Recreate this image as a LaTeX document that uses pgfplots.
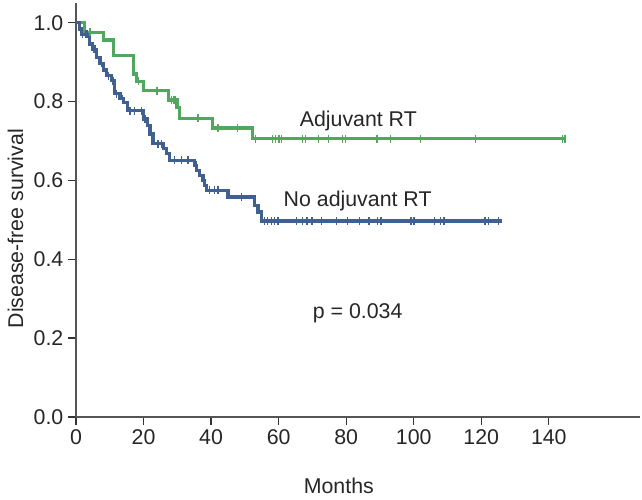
\documentclass[border=0pt]{standalone}
\usepackage{pgfplots}
\pgfplotsset{compat=1.18}
\usepackage{fontspec}
\setmainfont{Liberation Sans}
\definecolor{grn}{HTML}{4FA85E}
\definecolor{blu}{HTML}{40608F}
\definecolor{axgray}{HTML}{555555}

\begin{document}
\begin{tikzpicture}
\begin{axis}[
  scale only axis, width=423pt, height=310.5pt,
  xmin=0, xmax=167, ymin=0, ymax=1.05,
  axis lines*=left, clip=false,
  axis line style={line width=1.2pt, axgray},
  tick align=outside, major tick length=6pt,
  tick style={line width=1pt, black!80},
  xtick={0,20,...,140}, ytick={0,0.2,...,1.0},
  yticklabel style={/pgf/number format/.cd, fixed, fixed zerofill, precision=1},
  /pgf/number format/assume math mode=true,
  tick label style={font=\fontsize{16}{20}\selectfont, text=black!85},
  label style={font=\fontsize{16}{20}\selectfont, text=black!85},
  xlabel={Months},
  xlabel style={at={(axis description cs:0.466,0)}, anchor=base, yshift=-57.5pt},
  ylabel={Disease-free survival},
  ylabel style={at={(axis description cs:-0.094,0.455)}, rotate=0, anchor=base},
]
% fix the picture's extent to the reference proportions
\path (axis description cs:-0.1348,-0.2005) rectangle (axis description cs:1.0036,1.0073);

% Adjuvant RT
\addplot[const plot, grn, line width=2.4pt] coordinates {
(0,1.0) (2.4,0.976) (8.1,0.956) (11.0,0.916) (17.1,0.870) (17.9,0.851)
(19.9,0.828) (27.3,0.804) (29.9,0.784) (30.7,0.758) (40.4,0.733)
(52.2,0.706) (145,0.706)};
\addplot[only marks, grn, mark=|, mark size=3pt, mark options={line width=1pt}] coordinates {
(4.1,0.976) (18.5,0.851) (24.0,0.828) (28.3,0.804) (29.0,0.804) (29.5,0.804)
(36.1,0.758) (42.0,0.733) (47.9,0.733) (53.2,0.706) (58.1,0.706) (59.1,0.706)
(60.1,0.706) (60.9,0.706) (67.0,0.706) (67.9,0.706) (71.9,0.706) (74.8,0.706)
(79.0,0.706) (79.8,0.706) (89.1,0.706) (93.1,0.706) (102.1,0.706) (118.2,0.706)
(144.0,0.706) (144.8,0.706)};

% No adjuvant RT
\addplot[const plot, blu, line width=2.4pt] coordinates {
(0,1.0) (1.0,0.984) (1.7,0.971) (3.9,0.946) (4.9,0.933) (6.1,0.912)
(7.1,0.897) (8.1,0.880) (9.1,0.866) (10.5,0.853) (11.5,0.820) (13.0,0.807)
(14.0,0.798) (15.2,0.777) (19.9,0.756) (21.1,0.739) (21.9,0.718) (22.8,0.693)
(25.8,0.680) (26.8,0.668) (27.8,0.651) (35.2,0.638) (35.7,0.625) (36.6,0.613)
(37.6,0.600) (38.1,0.587) (38.6,0.575) (45.0,0.558) (52.9,0.537) (53.9,0.520)
(54.9,0.497) (126.1,0.497)};
\addplot[only marks, blu, mark=|, mark size=3pt, mark options={line width=1pt}] coordinates {
(1.9,0.971) (2.9,0.971) (3.3,0.971) (5.3,0.933) (5.8,0.933) (7.6,0.897)
(9.6,0.866) (11.0,0.853) (12.0,0.820) (13.8,0.807) (16.0,0.777) (17.4,0.777)
(19.4,0.777) (20.4,0.756) (24.3,0.693) (25.3,0.693) (29.2,0.651) (31.2,0.651)
(33.2,0.651) (35.5,0.638) (39.6,0.575) (41.1,0.575) (42.0,0.575) (49.0,0.558)
(55.8,0.497) (56.8,0.497) (57.8,0.497) (58.8,0.497) (59.8,0.497) (65.2,0.497)
(67.0,0.497) (68.4,0.497) (69.9,0.497) (72.6,0.497) (77.2,0.497) (80.4,0.497)
(83.9,0.497) (86.8,0.497) (89.3,0.497) (90.3,0.497) (99.2,0.497) (100.1,0.497)
(106.1,0.497) (108.0,0.497) (109.0,0.497) (121.1,0.497) (122.1,0.497) (125.1,0.497)};

\node[anchor=base, font=\fontsize{16}{20}\selectfont, text=black!85] at (axis cs:83.6,0.736) {Adjuvant RT};
\node[anchor=base, font=\fontsize{16}{20}\selectfont, text=black!85] at (axis cs:83.4,0.535) {No adjuvant RT};
\node[anchor=base, font=\fontsize{16}{20}\selectfont, text=black!85] at (axis cs:83.4,0.251) {p = 0.034};
\end{axis}
\end{tikzpicture}
\end{document}
